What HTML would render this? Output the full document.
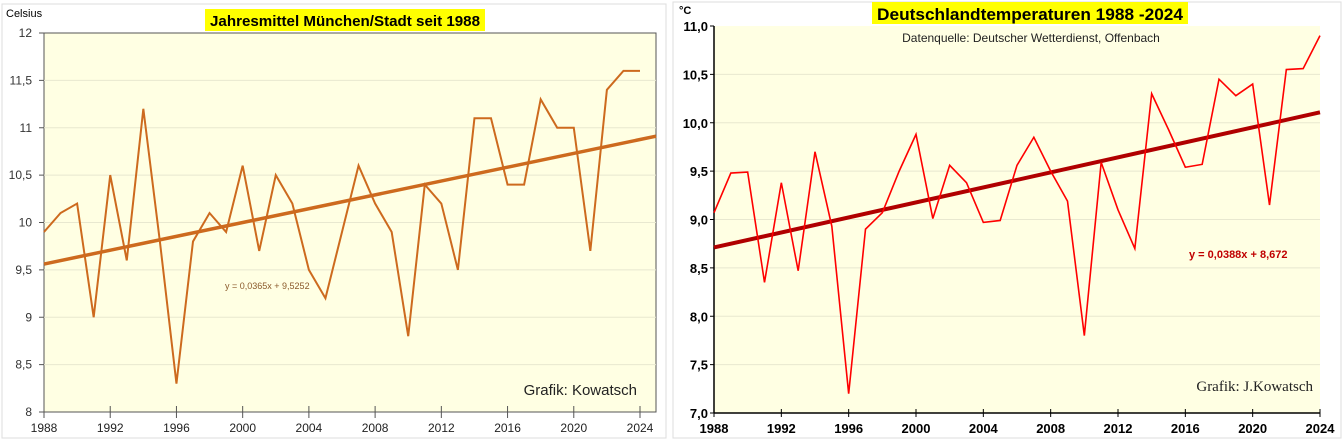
<!DOCTYPE html>
<html><head><meta charset="utf-8"><style>
body{margin:0;background:#fff;width:1344px;height:441px;overflow:hidden;font-family:"Liberation Sans",sans-serif}
svg{position:absolute;left:0;top:0}
</style></head><body>
<svg id="c" width="1344" height="441">
<rect x="2" y="4" width="664" height="434" fill="#fff" stroke="#ddd"/>
<rect x="673" y="2" width="668" height="436" fill="#fff" stroke="#ddd"/>
<rect x="44" y="33" width="612" height="379" fill="#FFFFE3" stroke="#555" stroke-width="1"/>
<rect x="714" y="26" width="606" height="387" fill="#FFFFE3"/>
<rect x="205" y="9" width="280" height="22" fill="#FFFF00"/>
<text x="345" y="26" text-anchor="middle" font-size="15" font-weight="bold" textLength="270" lengthAdjust="spacingAndGlyphs">Jahresmittel München/Stadt seit 1988</text>
<text x="6" y="17" font-size="11">Celsius</text>
<text x="637" y="395" text-anchor="end" font-size="15" fill="#222">Grafik: Kowatsch</text>
<text x="225" y="289" font-size="9" fill="#8B5A2B">y = 0,0365x + 9,5252</text>
<rect x="872" y="2" width="316" height="22" fill="#FFFF00"/>
<text x="1030" y="20" text-anchor="middle" font-size="17" font-weight="bold" textLength="306" lengthAdjust="spacingAndGlyphs">Deutschlandtemperaturen 1988 -2024</text>
<text x="1031" y="42" text-anchor="middle" font-size="12" fill="#222">Datenquelle: Deutscher Wetterdienst, Offenbach</text>
<text x="679" y="14" font-size="11" font-weight="bold">°C</text>
<text x="1313" y="391" text-anchor="end" font-size="15" font-family="Liberation Serif,serif" fill="#222">Grafik: J.Kowatsch</text>
<text x="1189" y="258" font-size="11" font-weight="bold" fill="#C00000">y = 0,0388x + 8,672</text>
</svg>
<script>
const yearsL=[1988,1989,1990,1991,1992,1993,1994,1995,1996,1997,1998,1999,2000,2001,2002,2003,2004,2005,2006,2007,2008,2009,2010,2011,2012,2013,2014,2015,2016,2017,2018,2019,2020,2021,2022,2023,2024];
const muenchen=[9.9,10.1,10.2,9.0,10.5,9.6,11.2,9.8,8.3,9.8,10.1,9.9,10.6,9.7,10.5,10.2,9.5,9.2,9.9,10.6,10.2,9.9,8.8,10.4,10.2,9.5,11.1,11.1,10.4,10.4,11.3,11.0,11.0,9.7,11.4,11.6,11.6];
const deutschland=[9.07,9.48,9.49,8.35,9.38,8.47,9.7,8.93,7.2,8.9,9.07,9.5,9.88,9.01,9.56,9.38,8.97,8.99,9.56,9.85,9.5,9.19,7.8,9.59,9.1,8.7,10.3,9.93,9.54,9.57,10.45,10.28,10.4,9.15,10.55,10.56,10.9];
const ticksL=[8,8.5,9,9.5,10,10.5,11,11.5,12];
const tickLabelsL=["8","8,5","9","9,5","10","10,5","11","11,5","12"];
const ticksR=[7,7.5,8,8.5,9,9.5,10,10.5,11];
const tickLabelsR=["7,0","7,5","8,0","8,5","9,0","9,5","10,0","10,5","11,0"];
const xTicks=[1988,1992,1996,2000,2004,2008,2012,2016,2020,2024];
const trendL=[0.0365,9.5252], trendR=[0.0388,8.672];
const svg=document.getElementById('c'),NS='http://www.w3.org/2000/svg';
function mk(t,a,txt){const e=document.createElementNS(NS,t);for(const k in a)e.setAttribute(k,a[k]);if(txt!==undefined)e.textContent=txt;svg.appendChild(e);return e;}
// left axes
const xL=y=>44+(y-1988)*(596/36), yL=v=>412-(v-8)*(379/4);
const xR=y=>714+(y-1988)*(606/36), yR=v=>413-(v-7)*(387/4);
ticksL.forEach((t,i)=>{
 if(t>8&&t<12){const g=mk('line',{x1:44,x2:656,y1:yL(t),y2:yL(t),stroke:'#e8e8d0'});}
 const tk=mk('line',{x1:39,x2:44,y1:yL(t),y2:yL(t),stroke:'#555'});
 const l=mk('text',{x:32,y:yL(t)+4,'text-anchor':'end','font-size':12,fill:'#333'},tickLabelsL[i]);
 
});
xTicks.forEach(t=>{
 const tk=mk('line',{x1:xL(t),x2:xL(t),y1:406,y2:418,stroke:'#555'});
 const l=mk('text',{x:xL(t),y:432,'text-anchor':'middle','font-size':12,fill:'#222'},t);
 
});
let tl=mk('line',{x1:xL(1988),y1:yL(trendL[0]*1+trendL[1]),x2:656,y2:yL(trendL[0]*(1+(656-44)/(596/36))+trendL[1]),stroke:'#CD6A1E','stroke-width':3.5});

let pl=mk('polyline',{points:muenchen.map((v,i)=>xL(yearsL[i])+','+yL(v)).join(' '),fill:'none',stroke:'#CD6A1E','stroke-width':2});

// right axes
ticksR.forEach((t,i)=>{
 if(t>7&&t<11){const g=mk('line',{x1:714,x2:1320,y1:yR(t),y2:yR(t),stroke:'#e8e8d0'});}
 const tk=mk('line',{x1:710,x2:714,y1:yR(t),y2:yR(t),stroke:'#000'});
 const l=mk('text',{x:708,y:yR(t)+5,'text-anchor':'end','font-size':13,'font-weight':'bold'},tickLabelsR[i]);
 
});
let ax=mk('line',{x1:714,x2:714,y1:26,y2:413,stroke:'#000','stroke-width':1.5});
ax=mk('line',{x1:714,x2:1320,y1:413,y2:413,stroke:'#000','stroke-width':1.5});
xTicks.forEach(t=>{
 const tk=mk('line',{x1:xR(t),x2:xR(t),y1:409,y2:417,stroke:'#000'});
 const l=mk('text',{x:xR(t),y:433,'text-anchor':'middle','font-size':13,'font-weight':'bold'},t);
 
});
tl=mk('line',{x1:xR(1988),y1:yR(trendR[0]*1+trendR[1]),x2:xR(2024),y2:yR(trendR[0]*37+trendR[1]),stroke:'#B00000','stroke-width':4});

pl=mk('polyline',{points:deutschland.map((v,i)=>xR(yearsL[i])+','+yR(v)).join(' '),fill:'none',stroke:'#FF0000','stroke-width':1.6});

</script>
</body></html>
